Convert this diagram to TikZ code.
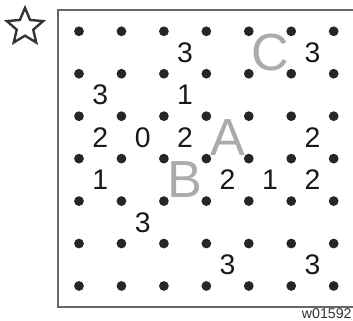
\documentclass[tikz,border=0pt]{standalone}
\usepackage{fontspec}
\setmainfont{Liberation Sans}
\usetikzlibrary{shapes.geometric}

\begin{document}
\begin{tikzpicture}[
  dot/.style={circle, fill=black!85, inner sep=0pt, minimum size=0.23cm},
  clue/.style={font=\fontsize{19}{22}\selectfont, text=black!90, inner sep=0pt},
  region/.style={font=\fontsize{35}{40}\selectfont, text=black!33, inner sep=0pt},
  tag/.style={font=\fontsize{9.5}{11}\selectfont, text=black!80, inner sep=0pt, anchor=east}
]
\useasboundingbox (-1.861,-0.824) rectangle (6.455,6.737);

% ── Frame and star ──
\draw[black!60, line width=1.2pt] (-0.5,-0.5) rectangle (6.5,6.5);
\node[star, star points=5, star point ratio=2.2, draw=black!80, line width=1.6pt,
      minimum size=0.9cm, inner sep=0pt] (star) at (-1.272,6.101) {};

% ── Grid of dots ──
\foreach \i in {0,...,6}
  \foreach \j in {0,...,6}
    \node[dot] (d-\i-\j) at (\i,\j) {};

% ── Clue numbers (cell centres) ──
\node[clue] (n1)  at (2.5,5.5) {3};
\node[clue] (n2)  at (5.5,5.5) {3};
\node[clue] (n3)  at (0.5,4.5) {3};
\node[clue] (n4)  at (2.5,4.5) {1};
\node[clue] (n5)  at (0.5,3.5) {2};
\node[clue] (n6)  at (1.5,3.5) {0};
\node[clue] (n7)  at (2.5,3.5) {2};
\node[clue] (n8)  at (5.5,3.5) {2};
\node[clue] (n9)  at (0.5,2.5) {1};
\node[clue] (n10) at (3.5,2.5) {2};
\node[clue] (n11) at (4.5,2.5) {1};
\node[clue] (n12) at (5.5,2.5) {2};
\node[clue] (n13) at (1.5,1.5) {3};
\node[clue] (n14) at (3.5,0.5) {3};
\node[clue] (n15) at (5.5,0.5) {3};

% ── Region letters ──
\node[region] (regA) at (3.5,3.5) {A};
\node[region] (regB) at (2.5,2.5) {B};
\node[region] (regC) at (4.5,5.5) {C};

% ── Figure tag ──
\node[tag] (fig) at (6.43,-0.66) {w01592};
\end{tikzpicture}
\end{document}
